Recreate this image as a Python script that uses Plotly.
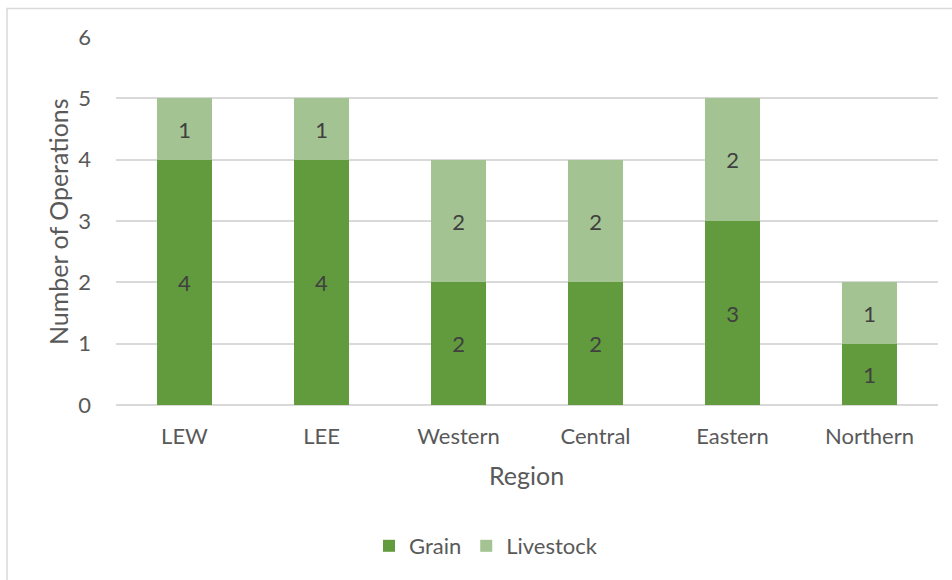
import plotly.graph_objects as go

regions = ["LEW", "LEE", "Western", "Central", "Eastern", "Northern"]
grain = [4, 4, 2, 2, 3, 1]
livestock = [1, 1, 2, 2, 2, 1]
y_ticks = [0, 1, 2, 3, 4, 5, 6]

FONT = "Lato, Open Sans, sans-serif"
GRAIN_C = "#629A3E"
LIVE_C = "#A3C492"
FS = 22

fig = go.Figure()
fig.add_trace(go.Bar(
    name="Grain", x=regions, y=grain, marker=dict(color=GRAIN_C, line=dict(width=0)),
    text=[str(v) for v in grain], textposition="inside", insidetextanchor="middle",
    textangle=0, textfont=dict(color="#404040", size=FS, family=FONT),
))
fig.add_trace(go.Bar(
    name="Livestock", x=regions, y=livestock, marker=dict(color=LIVE_C, line=dict(width=0)),
    text=[str(v) for v in livestock], textposition="inside", insidetextanchor="middle",
    textangle=0, textfont=dict(color="#404040", size=FS, family=FONT),
))

L, R, T, B = 116, 14, 37, 175
W, H = 952, 580
pw, ph = W - L - R, H - T - B

def px_x(p):
    return (p - L) / pw

def px_y(p):
    return (H - B - p) / ph

fig.update_layout(
    barmode="stack",
    bargap=0.605,
    width=W, height=H,
    margin=dict(l=L, r=R, t=T, b=B, pad=0),
    paper_bgcolor="white", plot_bgcolor="white",
    font=dict(family=FONT, color="#595959", size=FS),
    showlegend=True,
    legend=dict(orientation="h", x=px_x(486), xanchor="center", y=px_y(546), yanchor="middle",
                font=dict(size=FS, color="#595959"), traceorder="normal",
                itemsizing="constant", itemwidth=30, bgcolor="rgba(0,0,0,0)"),
    xaxis=dict(showgrid=False, showline=False, ticks="", tickfont=dict(size=FS, color="#595959"),
               ticklabelstandoff=16),
    yaxis=dict(range=[0, 6], tickvals=y_ticks, showgrid=True, gridcolor="#D9D9D9", gridwidth=1.5,
               zeroline=True, zerolinecolor="#D9D9D9", zerolinewidth=1.5, showline=False,
               ticks="", tickfont=dict(size=FS, color="#595959"), ticklabelstandoff=24),
    annotations=[
        dict(text="Region", xref="paper", yref="paper", x=px_x(526), y=px_y(475),
             showarrow=False, font=dict(size=25, color="#595959"), xanchor="center", yanchor="middle"),
        dict(text="Number of Operations", xref="paper", yref="paper", x=px_x(58), y=px_y(222),
             showarrow=False, textangle=-90, font=dict(size=25, color="#595959"),
             xanchor="center", yanchor="middle"),
    ],
    shapes=[
        dict(type="rect", xref="paper", yref="paper", x0=px_x(7), x1=px_x(1000), y0=px_y(640), y1=px_y(8.5),
             line=dict(color="#D9D9D9", width=1.5), fillcolor="rgba(0,0,0,0)", layer="below"),
    ],
)

fig.write_html("out.html")
